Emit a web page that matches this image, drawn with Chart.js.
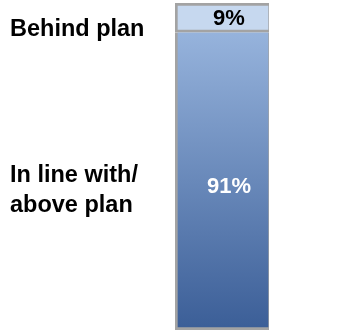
<!DOCTYPE html>
<html>
<head>
<meta charset="utf-8">
<script src="https://cdn.jsdelivr.net/npm/chart.js@4"></script>
<style>
html,body{margin:0;padding:0;background:#fff;}
canvas{display:block;}
</style>
</head>
<body>
<canvas id="c" width="360" height="331"></canvas>
<script>
// Data
const categories = ['In line with/\nabove plan', 'Behind plan'];
const values = [91, 9];
const valueLabels = ['91%', '9%'];

const CAT_FONT = 'bold 23.5px "Liberation Sans", Arial, sans-serif';
const VAL_FONT = 'bold 22px "Liberation Sans", Arial, sans-serif';

const labelPlugin = {
  id: 'labels',
  afterDatasetsDraw(chart) {
    const ctx = chart.ctx;
    ctx.save();
    chart.data.datasets.forEach((ds, i) => {
      const bar = chart.getDatasetMeta(i).data[0];
      const cy = (bar.y + bar.base) / 2;
      // value label
      ctx.font = VAL_FONT;
      ctx.textAlign = 'center';
      ctx.textBaseline = 'middle';
      ctx.fillStyle = i === 0 ? '#ffffff' : '#000000';
      ctx.fillText(valueLabels[i], bar.x + 7, cy + (i === 0 ? 6 : 1));
      // category label
      ctx.font = CAT_FONT;
      ctx.textAlign = 'left';
      ctx.fillStyle = '#000000';
      const lines = categories[i].split('\n');
      const lh = 30;
      const off = i === 0 ? 9 : 12;
      lines.forEach((ln, k) => {
        ctx.fillText(ln, 10, cy + off + (k - (lines.length - 1) / 2) * lh);
      });
    });
    ctx.restore();
  }
};

new Chart(document.getElementById('c'), {
  type: 'bar',
  data: {
    labels: [''],
    datasets: [
      {
        data: [values[0]],
        backgroundColor: (ctx) => {
          const ca = ctx.chart.chartArea;
          if (!ca) return '#6688bb';
          const g = ctx.chart.ctx.createLinearGradient(0, ca.top + 30, 0, ca.bottom);
          g.addColorStop(0, '#96b3dc');
          g.addColorStop(1, '#3b5e97');
          return g;
        },
        borderColor: '#a3a3a3',
        borderWidth: {left: 3, right: 1, top: 0, bottom: 3},
        borderSkipped: false
      },
      {
        data: [values[1]],
        backgroundColor: '#c6d8ef',
        borderColor: '#a3a3a3',
        borderWidth: {left: 3, right: 1, top: 3, bottom: 3},
        borderSkipped: false
      }
    ]
  },
  options: {
    responsive: false,
    devicePixelRatio: 1,
    animation: false,
    layout: {padding: {left: 175, right: 91, top: 3, bottom: 1}},
    datasets: {bar: {barThickness: 94}},
    plugins: {legend: {display: false}, tooltip: {enabled: false}},
    scales: {
      x: {display: false, stacked: true, barPercentage: 1, categoryPercentage: 1, grid: {display: false}},
      y: {display: false, stacked: true, min: 0, max: 100, grid: {display: false}}
    }
  },
  plugins: [labelPlugin]
});
</script>
</body>
</html>
